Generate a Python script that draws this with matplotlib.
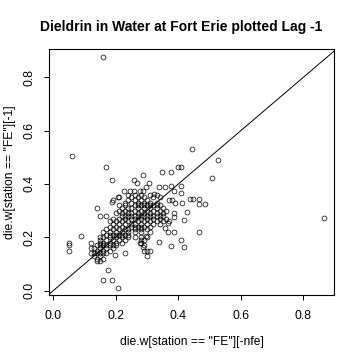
import matplotlib
matplotlib.use("Agg")
import matplotlib.pyplot as plt

# scattered points away from the dense band (x = current value, y = lag -1 value)
sparse_x = [0.158, 0.059, 0.445, 0.527, 0.865, 0.169, 0.399, 0.409,
            0.287, 0.348, 0.375, 0.507, 0.187, 0.257, 0.267, 0.305,
            0.295, 0.337, 0.357, 0.375, 0.407, 0.227, 0.245, 0.258,
            0.277, 0.288, 0.385, 0.323, 0.407, 0.206, 0.187, 0.436,
            0.447, 0.465, 0.465, 0.484, 0.427, 0.417, 0.385, 0.385,
            0.367, 0.357, 0.367, 0.385, 0.465, 0.338, 0.375, 0.407,
            0.417, 0.295, 0.228, 0.196, 0.087, 0.176, 0.158, 0.187,
            0.206, 0.277, 0.286]
sparse_y = [0.875, 0.506, 0.530, 0.488, 0.274, 0.465, 0.465, 0.465,
            0.435, 0.446, 0.446, 0.424, 0.416, 0.416, 0.405, 0.405,
            0.388, 0.388, 0.388, 0.393, 0.393, 0.375, 0.375, 0.375,
            0.375, 0.375, 0.375, 0.363, 0.365, 0.352, 0.334, 0.345,
            0.345, 0.345, 0.324, 0.324, 0.293, 0.263, 0.290, 0.275,
            0.255, 0.234, 0.221, 0.221, 0.221, 0.181, 0.169, 0.190,
            0.163, 0.203, 0.140, 0.134, 0.203, 0.079, 0.039, 0.039,
            0.009, 0.178, 0.165]

# dense band: one row per lag value (hundredths), x values in hundredths
band_y = [36, 35, 34, 33, 32, 31, 30, 29, 28, 27, 26, 25, 24,
          23, 22, 21, 20, 19, 18, 17, 16, 15, 14, 13, 12, 11]
band_x = [
    [24, 26, 28, 31, 33],
    [21, 25, 27, 29, 32, 34],
    [19, 24, 26, 28, 30, 37, 38],
    [23, 25, 27, 29, 31, 33, 39, 41],
    [21, 23, 26, 27, 28, 29, 30, 31, 32, 33, 34],
    [14, 22, 24, 25, 27, 29, 31, 33, 35],
    [21, 23, 26, 28, 30, 32, 34, 36],
    [20, 22, 24, 25, 27, 29, 31, 33, 35],
    [15, 17, 22, 23, 24, 25, 26, 27, 28, 29, 30, 31, 32, 33, 34, 35],
    [19, 21, 23, 25, 26, 28, 30, 32, 34, 36],
    [18, 20, 22, 24, 27, 29, 31, 33, 35, 37],
    [19, 21, 23, 25, 26, 28, 30, 32, 34],
    [18, 20, 22, 25, 26, 27, 28, 29, 31],
    [17, 19, 21, 23, 24, 26, 28, 30],
    [16, 18, 20, 22, 24, 26, 28, 31],
    [17, 18, 19, 20, 21, 22, 23, 24],
    [15, 16, 18, 20, 22, 24, 26, 28, 30],
    [15, 17, 19, 21, 23, 28, 29],
    [5, 12, 15, 16, 18, 20, 22, 28],
    [5, 14, 15, 16, 17, 18, 19, 20, 29],
    [12, 13, 15, 17, 19],
    [5, 14, 16, 18, 29, 30, 31],
    [12, 13, 14, 15, 16, 17],
    [13, 15, 30],
    [14, 16],
    [14, 15],
]

ticks = [0.0, 0.2, 0.4, 0.6, 0.8]
tick_labels = ["0.0", "0.2", "0.4", "0.6", "0.8"]

# collect everything into one pair of lists
xs = list(sparse_x)
ys = list(sparse_y)
for yv, row in zip(band_y, band_x):
    for xv in row:
        xs.append(xv / 100)
        ys.append(yv / 100)

plt.rcParams['font.family'] = ['Liberation Sans', 'DejaVu Sans']

fig = plt.figure(figsize=(3.6, 3.6), dpi=100)
ax = fig.add_axes([0.136, 0.181, 0.792, 0.683])

ax.plot(xs, ys, linestyle='none', marker='o', markersize=3.5,
        markerfacecolor='none', markeredgecolor='black', markeredgewidth=0.5)

ax.set_xlim(-0.014, 0.898)
ax.set_ylim(-0.016, 0.906)

# y = x reference line
ax.axline((0, 0), slope=1, color='black', linewidth=0.7)

ax.set_xticks(ticks)
ax.set_xticklabels(tick_labels)
ax.set_yticks(ticks)
ax.set_yticklabels(tick_labels, rotation=90, va='center')

ax.tick_params(axis='both', length=3.6, width=0.7, labelsize=8.7, direction='out')
ax.tick_params(axis='x', pad=7)
ax.tick_params(axis='y', pad=6)
for s in ax.spines.values():
    s.set_linewidth(0.8)

ax.set_xlabel('die.w[station == "FE"][-nfe]', fontsize=8.7, va='center')
ax.xaxis.set_label_coords(0.5, -0.191)
ax.set_ylabel('die.w[station == "FE"][-1]', fontsize=8.7, va='center')
ax.yaxis.set_label_coords(-0.137, 0.5)

fig.text(0.503, 0.925, "Dieldrin in Water at Fort Erie plotted Lag -1",
         ha='center', va='center', fontsize=10, fontweight='bold')

fig.savefig("out.png", dpi=100)
